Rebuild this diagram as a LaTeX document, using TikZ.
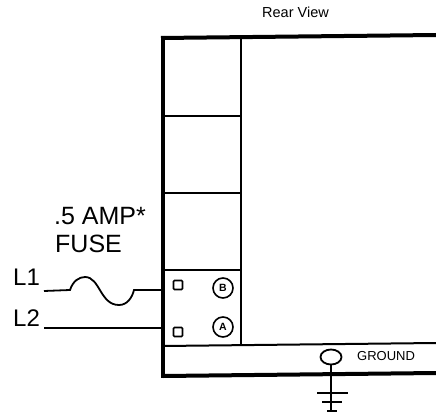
\documentclass[tikz,border=0pt]{standalone}
\usepackage{fontspec}
\setmainfont{Liberation Sans}
\usetikzlibrary{shapes.geometric}
\tikzset{
  heavy/.style={line width=4pt,line cap=butt},
  thin line/.style={line width=2pt},
  wire/.style={line width=1.8pt},
  terminal/.style={draw,line width=1.6pt,rounded corners=1pt,minimum size=9pt,inner sep=0pt},
  lug/.style={draw,circle,line width=1.6pt,minimum size=20pt,inner sep=0pt,font=\fontsize{10.5}{11}\selectfont\bfseries},
  lab/.style={inner sep=0pt,anchor=base west},
  big/.style={lab,font=\fontsize{25}{27}\selectfont},
  mid/.style={lab,font=\fontsize{24}{27}\selectfont},
  small/.style={lab,font=\fontsize{14.5}{16}\selectfont},
  smaller/.style={lab,font=\fontsize{13}{15}\selectfont},
}
\begin{document}
\begin{tikzpicture}[x=1pt,y=-1pt]
\useasboundingbox (0,0) rectangle (436,417);
\coordinate (tl) at (161,38);
\coordinate (tr) at (436,35);
\coordinate (bl) at (163,376);
\coordinate (br) at (436,373);
% outer frame
\draw[heavy] (tr) -- (tl) ;
\draw[heavy] (163,36) -- (163,378);
\draw[heavy] (bl) -- (br);
% inner lines
\draw[thin line] (241,38) -- (241,346);
\draw[thin line] (163,116) -- (241,116);
\draw[thin line] (163,193) -- (241,193);
\draw[thin line] (163,270) -- (241,270);
\draw[thin line] (163,346) -- (436,343);
% terminals
\node[terminal] (s1) at (178,285) {};
\node[terminal] (s2) at (178,332) {};
\node[lug] (B) at (223,288) {B};
\node[lug] (A) at (223,327) {A};
% wires
\coordinate (l1) at (44,291);
\coordinate (l2) at (44,328);
\coordinate (e1) at (163,290);
\coordinate (e2) at (163,328);
\draw[wire] (l1) -- (70,290) .. controls (73,281) and (79,277) .. (85,277)
  .. controls (100,277) and (100,305) .. (119,305)
  .. controls (127,305) and (132,298) .. (134,290) -- (e1);
\draw[wire] (l2) -- (e2);
% ground
\node[draw,ellipse,line width=1.8pt,minimum width=21pt,minimum height=15pt,inner sep=0pt] (G) at (331,357) {};
\coordinate (gend) at (331,411);
\draw[line width=2.2pt] (G.south) -- (gend);
\coordinate (g1a) at (317,393); \coordinate (g1b) at (348,393);
\coordinate (g2a) at (322,402); \coordinate (g2b) at (342,402);
\coordinate (g3a) at (327,411); \coordinate (g3b) at (337,411);
\draw[wire] (g1a) -- (g1b);
\draw[wire] (g2a) -- (g2b);
\draw[wire] (g3a) -- (g3b);
% text
\node[small] (rv) at (262,18) {Rear View};
\node[big] (amp) at (54,224) {.5 AMP*};
\node[big] (fuse) at (55,252) {FUSE};
\node[mid] (L1) at (13,285) {L1};
\node[mid] (L2) at (13,326) {L2};
\node[smaller] (gnd) at (357,360) {GROUND};
\end{tikzpicture}
\end{document}
